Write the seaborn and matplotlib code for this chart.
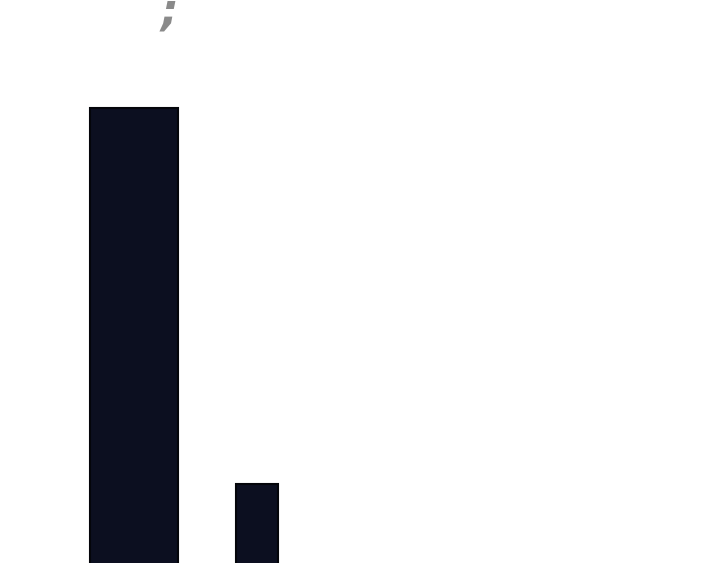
import pandas as pd
import seaborn as sns
import matplotlib
matplotlib.use("Agg")
import matplotlib.pyplot as plt

# data (baseline sits below the visible area)
categories = ["A", "B"]
values = [492, 116]
widths = [0.715, 0.341]
mark_text = ";"

sns.set_theme(style="white")

df = pd.DataFrame({"category": categories, "value": values})

fig = plt.figure(figsize=(7.2, 5.63), dpi=100)
ax = fig.add_axes([0, 0, 1, 1])

sns.barplot(data=df, x="category", y="value", color="#0c0f20",
            saturation=1, edgecolor="#04050a", linewidth=1.5, ax=ax)

# the two bars have different widths, keep them centred
for patch, w in zip(ax.patches, widths):
    cx = patch.get_x() + patch.get_width() / 2
    patch.set_width(w)
    patch.set_x(cx - w / 2)

ax.set_xlim(-1.089, 4.764)
ax.set_ylim(37, 600)
ax.axis("off")

# clipped grey glyph at the top
ax.text(0.235, 0.978, mark_text, transform=ax.transAxes, color="#8a8a8a",
        fontsize=32, fontstyle="italic", fontweight="bold",
        ha="center", va="center")

fig.savefig("out.png", dpi=100)
